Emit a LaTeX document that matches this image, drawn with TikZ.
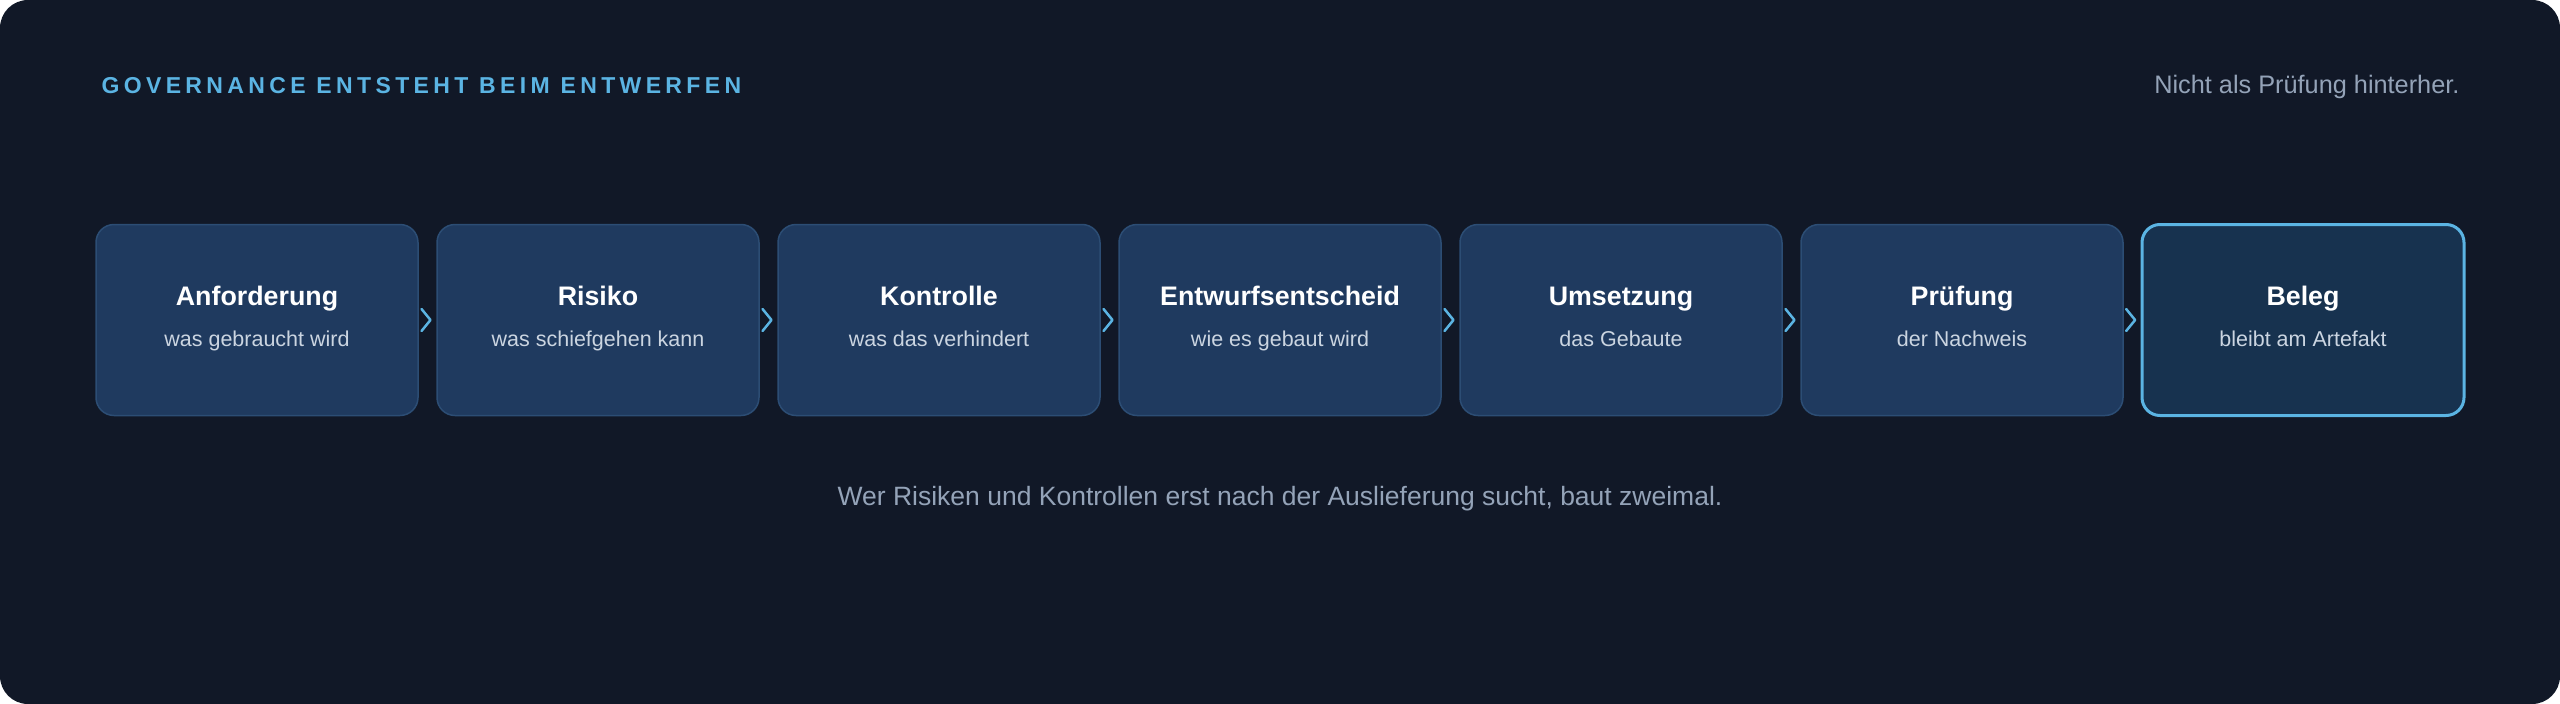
\documentclass[tikz,border=0pt]{standalone}
\usepackage{fontspec}
\setmainfont{Liberation Sans}
\usetikzlibrary{calc}
\definecolor{bgdark}{HTML}{111827}
\definecolor{boxfill}{HTML}{1F3A5F}
\definecolor{boxline}{HTML}{2C4D74}
\definecolor{lastfill}{HTML}{17324F}
\definecolor{accent}{HTML}{5BB4E3}
\definecolor{mute}{HTML}{94A3B8}
\definecolor{subtxt}{HTML}{CBD5E1}
\begin{document}
\begin{tikzpicture}[x=1pt,y=-1pt,
  stage/.style={draw=boxline,line width=1.5pt,fill=boxfill,rounded corners=18pt,minimum width=322pt,minimum height=191pt,inner sep=0pt},
  laststage/.style={stage,draw=accent,line width=3pt,fill=lastfill},
  ttl/.style={anchor=base,text=white,font=\fontsize{26.8}{30}\selectfont\bfseries},
  sub/.style={anchor=base,text=subtxt,font=\fontsize{21.5}{26}\selectfont},
  chev/.style={draw=accent,line width=2.5pt,line cap=round,line join=round}]
\useasboundingbox (0,0) rectangle (2560,704);
\fill[bgdark,rounded corners=28pt] (0,0) rectangle (2560,704);
\node[anchor=base west,text=accent,font=\fontsize{23}{28}\selectfont\bfseries\addfontfeature{LetterSpace=19}] (head) at (98,93) {GOVERNANCE ENTSTEHT BEIM ENTWERFEN};
\node[anchor=base east,text=mute,font=\fontsize{25.3}{30}\selectfont] (note) at (2463,93) {Nicht als Prüfung hinterher.};
% stages
\foreach \t/\s [count=\i] in {Anforderung/was gebraucht wird,Risiko/was schiefgehen kann,Kontrolle/was das verhindert,Entwurfsentscheid/wie es gebaut wird,Umsetzung/das Gebaute,Prüfung/der Nachweis}
  {\node[stage] (s\i) at ({257+341*(\i-1)},320) {};
   \node[ttl] (t\i) at ($(s\i.center)+(0,-15)$) {\t};
   \node[sub] (u\i) at ($(s\i.center)+(0,26)$) {\s};}
\node[laststage] (s7) at (2303,320) {};
\node[ttl] (t7) at ($(s7.center)+(0,-15)$) {Beleg};
\node[sub] (u7) at ($(s7.center)+(0,26)$) {bleibt am Artefakt};
\foreach \i [evaluate=\i as \j using int(\i+1)] in {1,...,6}
  \draw[chev] ($(s\i.east)!0.5!(s\j.west)+(-6,-11)$) -- ++(9,11) -- ++(-9,11);
\node[anchor=base,text=mute,font=\fontsize{26.5}{30}\selectfont] (moral) at (1280,505) {Wer Risiken und Kontrollen erst nach der Auslieferung sucht, baut zweimal.};
\end{tikzpicture}
\end{document}
